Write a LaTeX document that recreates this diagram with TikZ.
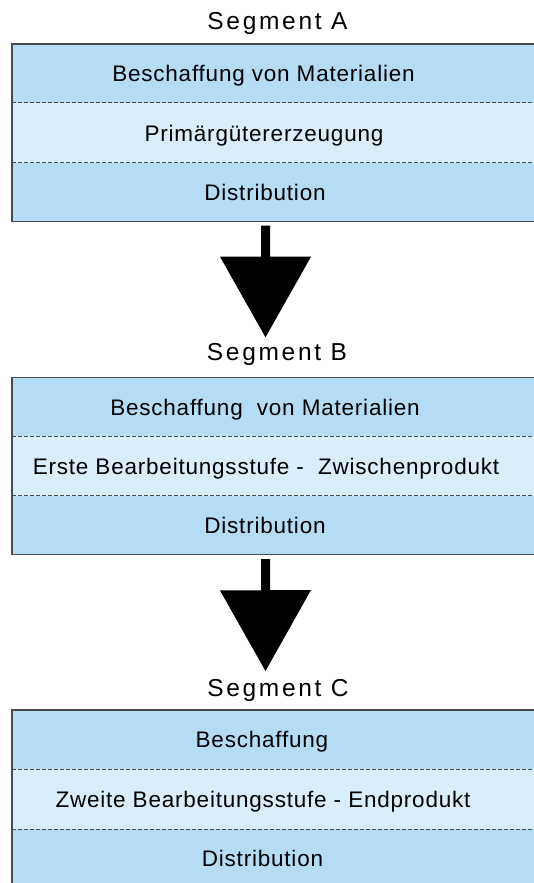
\documentclass[tikz,border=0pt]{standalone}
\usepackage{fontspec}
\setmainfont{Liberation Sans}
\newfontfamily\bodyfont[LetterSpace=3.5]{Liberation Sans}
\newfontfamily\headfont[LetterSpace=11]{Liberation Sans}
\definecolor{rowdark}{HTML}{B4DCF4}
\definecolor{rowlight}{HTML}{DAEDFA}
\definecolor{frame}{HTML}{4A4A4A}
% block arrow: shaft of 31 from the start coordinate, then a wide triangular head down to the tip
\newcommand\segarrow[2]{%
  \fill (#1) ++(-4.5,0) -- ++(9,0) -- ++(0,31) -- ++(41,0) -- (#2)
        -- ++(-45.5,-80.6) -- ++(41,0) -- cycle;}
% open frame of a segment block: top, left and bottom edges (the block runs off to the right)
\newcommand\segframe[1]{%
  \draw[frame line] (#1.north east) -- (#1.north west) -- (#1.south west) -- (#1.south east);}
\begin{document}
\begin{tikzpicture}[x=1pt,y=-1pt,
  rowtext/.style={anchor=base, inner sep=0pt, font=\bodyfont\fontsize{22.5}{27}\selectfont},
  heading/.style={anchor=base, inner sep=0pt, font=\headfont\fontsize{24.5}{29}\selectfont},
  divider/.style={draw=frame, line width=0.8pt, dash pattern=on 3.5pt off 2.5pt},
  block/.style={inner sep=0pt, outer sep=0pt, anchor=north west, minimum width=560pt},
  frame line/.style={draw=frame, line width=1.4pt},
]
\useasboundingbox (0,0) rectangle (534,883);
\clip (0,0) rectangle (534,883);

% ---------------- Segment A ----------------
\node[heading] (tA) at (277.5,30) {Segment A};
\fill[rowdark]  (12,44)    rectangle (600,102.7);
\fill[rowlight] (12,102.7) rectangle (600,162.7);
\fill[rowdark]  (12,162.7) rectangle (600,221.3);
\draw[divider] (12,102.7) -- (600,102.7);
\draw[divider] (12,162.7) -- (600,162.7);
\node[block, minimum height=177.3pt] (boxA) at (12,44) {};
\segframe{boxA}
\node[rowtext] (a1) at (263.5,81.7)  {Beschaffung von Materialien};
\node[rowtext] (a2) at (264,141)     {Primärgütererzeugung};
\node[rowtext] (a3) at (265,200.3)   {Distribution};

% ---------------- Segment B ----------------
\node[heading] (tB) at (277,360) {Segment B};
\fill[rowdark]  (12,377.7) rectangle (600,436);
\fill[rowlight] (12,436)   rectangle (600,495.7);
\fill[rowdark]  (12,495.7) rectangle (600,554.3);
\draw[divider] (12,436)   -- (600,436);
\draw[divider] (12,495.7) -- (600,495.7);
\node[block, minimum height=176.6pt] (boxB) at (12,377.7) {};
\segframe{boxB}
\node[rowtext] (b1) at (265,415.2) {Beschaffung\ \ von Materialien};
\node[rowtext] (b2) at (266,474.2) {Erste Bearbeitungsstufe -\ \ Zwischenprodukt};
\node[rowtext] (b3) at (265,533.3) {Distribution};

% ---------------- Segment C ----------------
\node[heading] (tC) at (278,696) {Segment C};
\fill[rowdark]  (12,710) rectangle (600,769);
\fill[rowlight] (12,769) rectangle (600,829);
\fill[rowdark]  (12,829) rectangle (600,900);
\draw[divider] (12,769) -- (600,769);
\draw[divider] (12,829) -- (600,829);
\node[block, minimum height=190pt] (boxC) at (12,710) {};
\segframe{boxC}
\node[rowtext] (c1) at (262,747.8) {Beschaffung};
\node[rowtext] (c2) at (263,807.3) {Zweite Bearbeitungsstufe - Endprodukt};
\node[rowtext] (c3) at (262.5,866.8) {Distribution};

% ---------------- flow arrows ----------------
\coordinate (abStart) at (265.5,225.7);
\coordinate (abTip)   at (265.5,337.3);
\coordinate (bcStart) at (265.5,559);
\coordinate (bcTip)   at (265.5,671);
\segarrow{abStart}{abTip}
\segarrow{bcStart}{bcTip}
\end{tikzpicture}
\end{document}
